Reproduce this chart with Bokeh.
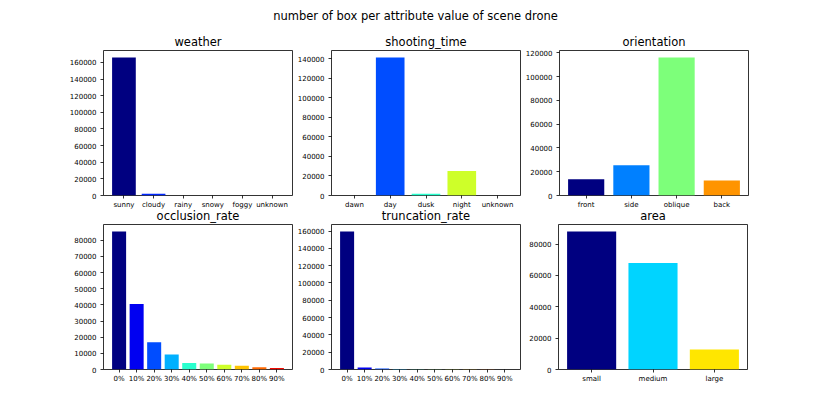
import numpy as np
from bokeh.plotting import figure
from bokeh.layouts import column, row
from bokeh.models import (ColumnDataSource, FixedTicker, BasicTickFormatter, Range1d, Label)
from bokeh.embed import file_html
from bokeh.resources import INLINE

SUPTITLE = "number of box per attribute value of scene drone"

weather_labels = ["sunny", "cloudy", "rainy", "snowy", "foggy", "unknown"]
weather_counts = [166000, 2000, 0, 0, 0, 0]
weather_ticks = [0, 20000, 40000, 60000, 80000, 100000, 120000, 140000, 160000]

shooting_labels = ["dawn", "day", "dusk", "night", "unknown"]
shooting_counts = [0, 141400, 1700, 25000, 0]
shooting_ticks = [0, 20000, 40000, 60000, 80000, 100000, 120000, 140000]

orientation_labels = ["front", "side", "oblique", "back"]
orientation_counts = [13700, 25400, 116100, 12600]
orientation_ticks = [0, 20000, 40000, 60000, 80000, 100000, 120000]

occlusion_labels = ["0%", "10%", "20%", "30%", "40%", "50%", "60%", "70%", "80%", "90%"]
occlusion_counts = [85500, 40600, 16900, 9300, 4100, 3700, 2900, 2300, 1400, 1000]
occlusion_ticks = [0, 10000, 20000, 30000, 40000, 50000, 60000, 70000, 80000]

truncation_labels = ["0%", "10%", "20%", "30%", "40%", "50%", "60%", "70%", "80%", "90%"]
truncation_counts = [159600, 2300, 1100, 700, 400, 300, 200, 200, 150, 100]
truncation_ticks = [0, 20000, 40000, 60000, 80000, 100000, 120000, 140000, 160000]

area_labels = ["small", "medium", "large"]
area_counts = [88100, 67900, 12700]
area_ticks = [0, 20000, 40000, 60000, 80000]

FONT = "DejaVu Sans"


def jet(x):
    idx = min(int(x * 256), 255)
    xx = idx / 255.0
    r = np.interp(xx, [0, 0.35, 0.66, 0.89, 1], [0, 0, 1, 1, 0.5])
    g = np.interp(xx, [0, 0.125, 0.375, 0.64, 0.91, 1], [0, 0, 1, 1, 0, 0])
    b = np.interp(xx, [0, 0.11, 0.34, 0.65, 1], [0.5, 1, 1, 0, 0])
    return "#%02x%02x%02x" % (int(round(r * 255)), int(round(g * 255)), int(round(b * 255)))


def make_panel(title, labels, counts, yticks, left, right, top, bottom, standoff):
    n = len(labels)
    xs = list(range(n))
    colors = [jet(i / n) for i in range(n)]
    src = ColumnDataSource(dict(x=xs, top=counts, color=colors))
    span = (n - 1 + 0.8)
    xr = Range1d(-0.4 - 0.05 * span, n - 1 + 0.4 + 0.05 * span)
    yr = Range1d(0, max(counts) * 1.05)
    p = figure(frame_width=189, frame_height=145, x_range=xr, y_range=yr,
               output_backend="svg", toolbar_location=None,
               min_border_left=left, min_border_right=right,
               min_border_top=top, min_border_bottom=bottom,
               title=title)
    p.vbar(x="x", top="top", width=0.8, bottom=0, color="color", line_color=None, source=src)
    p.title.text_font = FONT
    p.title.text_font_size = "11.5px"
    p.title.text_font_style = "normal"
    p.title.text_color = "black"
    p.title.align = "center"
    p.title.standoff = standoff
    p.border_fill_color = None
    p.xgrid.visible = False
    p.ygrid.visible = False
    p.outline_line_color = "black"
    p.outline_line_width = 0.8
    p.outline_line_alpha = 1.0
    p.xaxis.ticker = FixedTicker(ticks=xs)
    p.xaxis.major_label_overrides = {i: lab for i, lab in enumerate(labels)}
    p.yaxis.ticker = FixedTicker(ticks=yticks)
    p.yaxis.formatter = BasicTickFormatter(use_scientific=False)
    for ax in (p.xaxis[0], p.yaxis[0]):
        ax.axis_line_color = None
        ax.major_tick_in = 0
        ax.major_tick_out = 3
        ax.minor_tick_in = 0
        ax.minor_tick_out = 0
        ax.major_tick_line_color = "black"
        ax.major_tick_line_width = 0.8
        ax.major_label_text_font = FONT
        ax.major_label_text_font_size = "7px"
        ax.major_label_text_color = "black"
    p.xaxis.major_label_standoff = 2
    p.yaxis.major_label_standoff = 4
    return p


f1 = make_panel("weather", weather_labels, weather_counts, weather_ticks, 103, 2, 22, 12, 4)
f2 = make_panel("shooting_time", shooting_labels, shooting_counts, shooting_ticks, 37, 2, 22, 12, 4)
f3 = make_panel("orientation", orientation_labels, orientation_counts, orientation_ticks, 36, 10, 22, 12, 4)
f4 = make_panel("occlusion_rate", occlusion_labels, occlusion_counts, occlusion_ticks, 103, 2, 10, 16, 4)
f5 = make_panel("truncation_rate", truncation_labels, truncation_counts, truncation_ticks, 37, 2, 10, 16, 4)
f6 = make_panel("area", area_labels, area_counts, area_ticks, 36, 10, 10, 16, 4)

p0 = figure(width=820, height=28, min_border=0, x_axis_location=None, y_axis_location=None,
            outline_line_color=None, toolbar_location=None, output_backend="svg", title=None,
            x_range=Range1d(0, 1), y_range=Range1d(0, 1))
p0.xgrid.visible = False
p0.ygrid.visible = False
p0.border_fill_color = None
p0.add_layout(Label(x=415, y=13, x_units="screen", y_units="screen", text=SUPTITLE,
                    text_align="center", text_baseline="middle", text_font=FONT,
                    text_font_size="11.5px", text_color="black"))

layout = column(p0, row(f1, f2, f3), row(f4, f5, f6, margin=(-7, 0, 0, 0)))
open("out.html", "w").write(file_html(layout, INLINE))
